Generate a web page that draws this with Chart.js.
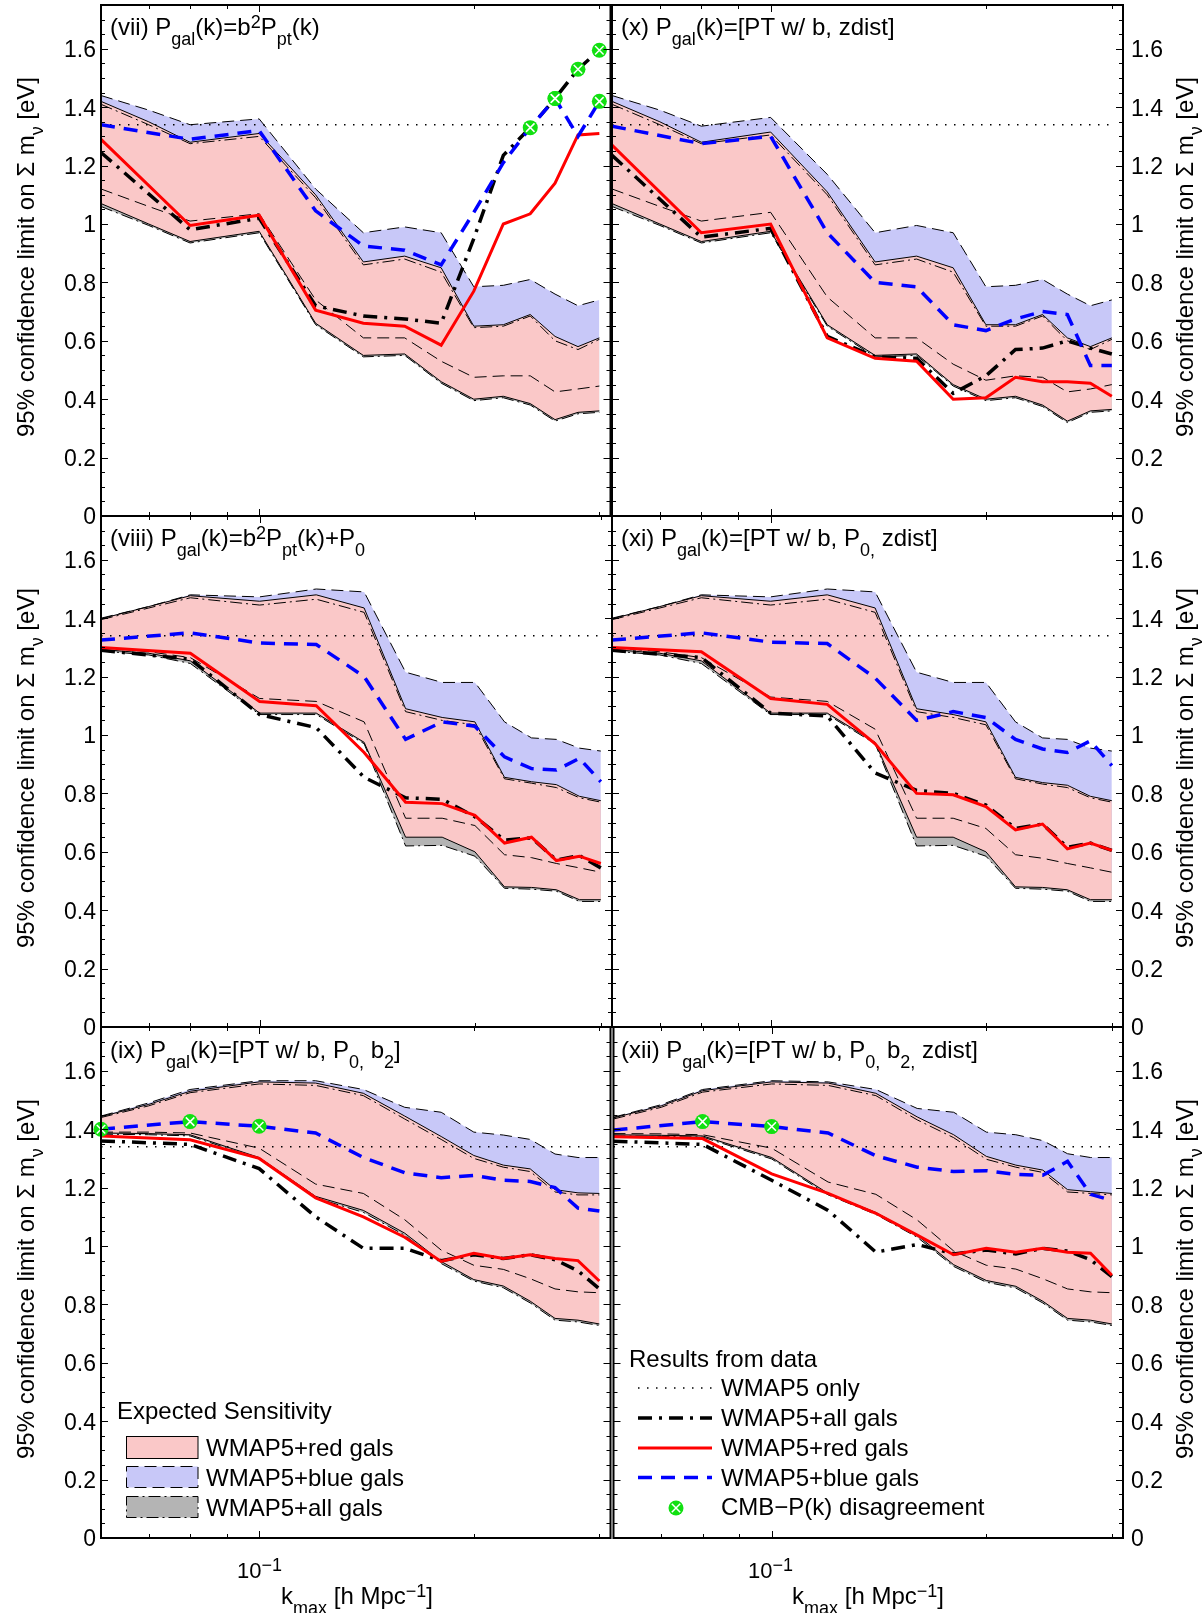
<!DOCTYPE html>
<html>
<head>
<meta charset="utf-8">
<script src="https://cdn.jsdelivr.net/npm/chart.js@4.4.1/dist/chart.umd.min.js"></script>
<style>
html,body{margin:0;padding:0;background:#fff;}
#wrap{position:relative;width:1204px;height:1613px;overflow:hidden;font-family:"Liberation Sans",Arial,Helvetica,sans-serif;color:#000;background:#fff;}
canvas{position:absolute;}
.t{position:absolute;font-size:24px;line-height:24px;white-space:nowrap;}
.t sub{font-size:18px;vertical-align:-10px;line-height:0;}
.t sup{font-size:18px;vertical-align:7px;line-height:0;}
.c{transform:translateX(-50%);}
.yt{position:absolute;font-size:24px;line-height:24px;white-space:nowrap;transform:translate(-50%,-50%) rotate(-90deg);}
.yt sub{font-size:18px;vertical-align:-9px;line-height:0;}
#sym{position:absolute;left:0;top:0;}
</style>
</head>
<body>
<div id="wrap">
<canvas id="p7"></canvas><canvas id="p10"></canvas>
<canvas id="p8"></canvas><canvas id="p11"></canvas>
<canvas id="p9"></canvas><canvas id="p12"></canvas>

<div class="t" style="left:110px;top:15px">(vii) P<sub>gal</sub>(k)=b<sup>2</sup>P<sub>pt</sub>(k)</div>
<div class="t" style="left:621px;top:15px">(x) P<sub>gal</sub>(k)=[PT w/ b, zdist]</div>
<div class="t" style="left:110px;top:526px">(viii) P<sub>gal</sub>(k)=b<sup>2</sup>P<sub>pt</sub>(k)+P<sub>0</sub></div>
<div class="t" style="left:621px;top:526px">(xi) P<sub>gal</sub>(k)=[PT w/ b, P<sub>0,</sub> zdist]</div>
<div class="t" style="left:110px;top:1038px">(ix) P<sub>gal</sub>(k)=[PT w/ b, P<sub>0,</sub> b<sub>2</sub>]</div>
<div class="t" style="left:621px;top:1038px">(xii) P<sub>gal</sub>(k)=[PT w/ b, P<sub>0,</sub> b<sub>2,</sub> zdist]</div>

<div class="yt" style="left:26px;top:257px">95% confidence limit on Σ m<sub>ν</sub> [eV]</div>
<div class="yt" style="left:26px;top:768px">95% confidence limit on Σ m<sub>ν</sub> [eV]</div>
<div class="yt" style="left:26px;top:1279px">95% confidence limit on Σ m<sub>ν</sub> [eV]</div>
<div class="yt" style="left:1185px;top:257px">95% confidence limit on Σ m<sub>ν</sub> [eV]</div>
<div class="yt" style="left:1185px;top:768px">95% confidence limit on Σ m<sub>ν</sub> [eV]</div>
<div class="yt" style="left:1185px;top:1279px">95% confidence limit on Σ m<sub>ν</sub> [eV]</div>

<div class="t c" style="left:259.6px;top:1559px;font-size:22px">10<sup>−1</sup></div>
<div class="t c" style="left:770.6px;top:1559px;font-size:22px">10<sup>−1</sup></div>
<div class="t c" style="left:357px;top:1584px">k<sub>max</sub> [h Mpc<sup>−1</sup>]</div>
<div class="t c" style="left:868px;top:1584px">k<sub>max</sub> [h Mpc<sup>−1</sup>]</div>

<div class="t" style="left:117px;top:1399px">Expected Sensitivity</div>
<div class="t" style="left:206px;top:1436px">WMAP5+red gals</div>
<div class="t" style="left:206px;top:1466px">WMAP5+blue gals</div>
<div class="t" style="left:206px;top:1496px">WMAP5+all gals</div>

<div class="t" style="left:629px;top:1347px">Results from data</div>
<div class="t" style="left:721px;top:1376px">WMAP5 only</div>
<div class="t" style="left:721px;top:1406px">WMAP5+all gals</div>
<div class="t" style="left:721px;top:1436px">WMAP5+red gals</div>
<div class="t" style="left:721px;top:1466px">WMAP5+blue gals</div>
<div class="t" style="left:721px;top:1495px">CMB−P(k) disagreement</div>

<svg id="sym" width="1204" height="1613" xmlns="http://www.w3.org/2000/svg">
  <rect x="126.5" y="1436.5" width="71.5" height="22" fill="#fac8c8" stroke="#000" stroke-width="1"/>
  <rect x="126.5" y="1466.5" width="71.5" height="21" fill="#c8c8f8" stroke="#000" stroke-width="1" stroke-dasharray="12 6"/>
  <rect x="126.5" y="1496.5" width="71.5" height="21" fill="#b4b4b4" stroke="#000" stroke-width="1" stroke-dasharray="12 4 2 4"/>
  <line x1="638" y1="1388" x2="712" y2="1388" stroke="#000" stroke-width="1.4" stroke-dasharray="1.5 7.5"/>
  <line x1="638" y1="1418" x2="712" y2="1418" stroke="#000" stroke-width="3.5" stroke-dasharray="14 7 3 7"/>
  <line x1="638" y1="1448" x2="712" y2="1448" stroke="#ff0000" stroke-width="3"/>
  <line x1="638" y1="1477.5" x2="712" y2="1477.5" stroke="#0000ff" stroke-width="3.5" stroke-dasharray="14 9"/>
  <circle cx="676" cy="1508" r="7.5" fill="#11e011"/>
  <line x1="671.8" y1="1503.8" x2="680.2" y2="1512.2" stroke="#fff" stroke-width="1.5"/>
  <line x1="671.8" y1="1512.2" x2="680.2" y2="1503.8" stroke="#fff" stroke-width="1.5"/>
</svg>
</div>

<script>
// ---------- axes ----------
const X_MIN = 0.06, X_MAX = 0.311;
const Y_MIN = 0, Y_MAX = 1.75;
const Y_TICKS = [0, 0.2, 0.4, 0.6, 0.8, 1.0, 1.2, 1.4, 1.6];
const Y_TICK_LABELS = ['0', '0.2', '0.4', '0.6', '0.8', '1', '1.2', '1.4', '1.6'];
const Y_MINOR = [0.05,0.1,0.15,0.25,0.3,0.35,0.45,0.5,0.55,0.65,0.7,0.75,0.85,0.9,0.95,1.05,1.1,1.15,1.25,1.3,1.35,1.45,1.5,1.55,1.65,1.7];
const X_MAJOR = [0.1];
const X_MINOR = [0.07, 0.08, 0.09, 0.2, 0.3];

// ---------- k grids ----------
const K_BAND = [0.06,0.07,0.08,0.10,0.12,0.14,0.16,0.18,0.20,0.22,0.24,0.26,0.28,0.30];
const K_DATA = [0.06,0.08,0.10,0.12,0.14,0.16,0.18,0.20,0.22,0.24,0.26,0.28,0.30];
const K_WMAP = [0.06, 0.30];
const WMAP5_ONLY = [1.34, 1.34];

// ---------- (vii) ----------
const P7_BLUE_UP = [1.44,1.39,1.34,1.36,1.12,0.97,0.99,0.97,0.785,0.79,0.81,0.76,0.72,0.74];
const P7_RED_UP  = [1.42,1.35,1.28,1.31,1.10,0.87,0.89,0.85,0.65,0.655,0.69,0.615,0.58,0.61];
const P7_ALL_UP  = [1.41,1.34,1.275,1.30,1.09,0.86,0.88,0.835,0.645,0.65,0.685,0.60,0.57,0.605];
const P7_BLUE_LO = [1.12,1.06,1.01,1.035,0.74,0.61,0.61,0.53,0.475,0.48,0.48,0.425,0.435,0.445];
const P7_RED_LO  = [1.07,1.00,0.94,0.975,0.66,0.55,0.555,0.46,0.40,0.41,0.385,0.33,0.355,0.36];
const P7_ALL_LO  = [1.06,0.995,0.935,0.97,0.655,0.545,0.55,0.455,0.395,0.405,0.38,0.325,0.35,0.355];
const P7_RED  = [1.29,0.995,1.03,0.705,0.66,0.65,0.585,0.77,1.00,1.035,1.14,1.305,1.31];
const P7_ALL  = [1.245,0.98,1.02,0.72,0.685,0.675,0.66,0.95,1.235,1.33,1.43,1.53,1.595];
const P7_BLUE = [1.34,1.29,1.32,1.045,0.925,0.91,0.86,1.04,1.21,1.33,1.43,1.30,1.42];
const P7_MARK_K = [0.24,0.26,0.28,0.30,0.26,0.30];
const P7_MARK_V = [1.33,1.43,1.53,1.595,1.43,1.42];

// ---------- (x) ----------
const P10_BLUE_UP = [1.44,1.39,1.335,1.365,1.17,0.97,0.995,0.97,0.785,0.79,0.81,0.76,0.72,0.74];
const P10_RED_UP  = [1.42,1.35,1.28,1.315,1.11,0.87,0.89,0.85,0.655,0.655,0.69,0.61,0.58,0.61];
const P10_ALL_UP  = [1.41,1.34,1.275,1.305,1.10,0.86,0.88,0.835,0.65,0.65,0.685,0.60,0.57,0.605];
const P10_BLUE_LO = [1.12,1.06,1.01,1.04,0.75,0.61,0.61,0.52,0.465,0.48,0.475,0.425,0.435,0.45];
const P10_RED_LO  = [1.07,1.00,0.94,0.975,0.655,0.55,0.555,0.45,0.40,0.41,0.38,0.325,0.36,0.365];
const P10_ALL_LO  = [1.06,0.995,0.935,0.97,0.65,0.545,0.55,0.445,0.395,0.405,0.375,0.32,0.355,0.36];
const P10_RED  = [1.27,0.97,1.00,0.61,0.54,0.53,0.40,0.405,0.475,0.46,0.46,0.455,0.41];
const P10_ALL  = [1.235,0.955,0.985,0.615,0.545,0.54,0.42,0.48,0.57,0.575,0.60,0.575,0.555];
const P10_BLUE = [1.335,1.275,1.30,0.97,0.80,0.785,0.655,0.635,0.675,0.70,0.69,0.515,0.515];

// ---------- (viii) ----------
const P8_BLUE_UP = [1.40,1.44,1.48,1.473,1.50,1.49,1.215,1.18,1.18,1.045,0.99,0.985,0.955,0.945];
const P8_RED_UP  = [1.398,1.44,1.477,1.458,1.48,1.435,1.09,1.06,1.045,0.855,0.84,0.83,0.79,0.775];
const P8_ALL_UP  = [1.395,1.435,1.47,1.445,1.465,1.42,1.08,1.05,1.035,0.85,0.835,0.82,0.785,0.77];
const P8_BLUE_LO = [1.30,1.285,1.265,1.125,1.115,1.045,0.715,0.715,0.69,0.59,0.58,0.56,0.545,0.53];
const P8_RED_LO  = [1.293,1.28,1.254,1.075,1.075,0.975,0.65,0.65,0.60,0.48,0.478,0.47,0.436,0.436];
const P8_ALL_LO  = [1.288,1.274,1.245,1.07,1.07,0.97,0.62,0.622,0.585,0.475,0.472,0.465,0.43,0.43];
const P8_RED  = [1.30,1.28,1.115,1.10,0.94,0.77,0.765,0.725,0.63,0.65,0.57,0.585,0.56];
const P8_ALL  = [1.29,1.26,1.07,1.025,0.855,0.785,0.78,0.72,0.64,0.648,0.572,0.587,0.545];
const P8_BLUE = [1.325,1.35,1.315,1.31,1.20,0.985,1.045,1.03,0.925,0.885,0.88,0.92,0.84];

// ---------- (xi) ----------
const P11_BLUE_UP = [1.40,1.44,1.48,1.473,1.50,1.49,1.215,1.18,1.18,1.045,0.99,0.985,0.955,0.945];
const P11_RED_UP  = [1.398,1.44,1.477,1.458,1.48,1.435,1.09,1.07,1.045,0.855,0.837,0.828,0.79,0.775];
const P11_ALL_UP  = [1.395,1.435,1.47,1.445,1.465,1.42,1.08,1.06,1.035,0.85,0.832,0.82,0.785,0.77];
const P11_BLUE_LO = [1.30,1.285,1.265,1.13,1.115,1.02,0.715,0.715,0.68,0.59,0.578,0.56,0.545,0.53];
const P11_RED_LO  = [1.293,1.28,1.254,1.075,1.075,0.975,0.65,0.65,0.60,0.48,0.478,0.47,0.436,0.436];
const P11_ALL_LO  = [1.288,1.274,1.245,1.07,1.07,0.97,0.62,0.622,0.585,0.475,0.472,0.465,0.43,0.43];
const P11_RED  = [1.30,1.285,1.125,1.105,0.97,0.80,0.795,0.755,0.675,0.695,0.61,0.63,0.605];
const P11_ALL  = [1.29,1.265,1.075,1.065,0.87,0.81,0.80,0.76,0.68,0.695,0.615,0.63,0.605];
const P11_BLUE = [1.325,1.35,1.318,1.313,1.195,1.05,1.08,1.06,0.985,0.952,0.94,0.98,0.895];

// ---------- (ix) ----------
const P9_BLUE_UP = [1.445,1.49,1.536,1.566,1.566,1.536,1.475,1.458,1.39,1.38,1.365,1.315,1.303,1.303];
const P9_RED_UP  = [1.443,1.485,1.53,1.562,1.558,1.523,1.445,1.375,1.31,1.277,1.264,1.193,1.182,1.18];
const P9_ALL_UP  = [1.44,1.48,1.525,1.555,1.55,1.515,1.435,1.365,1.30,1.27,1.255,1.185,1.175,1.175];
const P9_BLUE_LO = [1.39,1.39,1.387,1.335,1.212,1.18,1.09,0.986,0.934,0.92,0.888,0.853,0.843,0.84];
const P9_RED_LO  = [1.387,1.385,1.381,1.303,1.17,1.122,1.044,0.947,0.885,0.863,0.811,0.752,0.746,0.733];
const P9_ALL_LO  = [1.383,1.381,1.377,1.298,1.165,1.115,1.037,0.94,0.88,0.857,0.805,0.746,0.74,0.728];
const P9_RED  = [1.377,1.364,1.30,1.165,1.10,1.03,0.947,0.975,0.957,0.97,0.957,0.95,0.88];
const P9_ALL  = [1.36,1.348,1.265,1.10,0.992,0.992,0.95,0.97,0.957,0.97,0.953,0.915,0.853];
const P9_BLUE = [1.40,1.426,1.41,1.387,1.303,1.251,1.234,1.242,1.225,1.221,1.20,1.13,1.12];
const P9_MARK_K = [0.06,0.08,0.10];
const P9_MARK_V = [1.40,1.426,1.41];

// ---------- (xii) ----------
const P12_BLUE_UP = [1.441,1.484,1.536,1.566,1.562,1.536,1.471,1.458,1.39,1.381,1.361,1.316,1.303,1.303];
const P12_RED_UP  = [1.439,1.48,1.532,1.562,1.558,1.523,1.442,1.381,1.307,1.277,1.26,1.193,1.186,1.18];
const P12_ALL_UP  = [1.435,1.475,1.527,1.555,1.55,1.515,1.432,1.371,1.297,1.27,1.252,1.185,1.18,1.175];
const P12_BLUE_LO = [1.385,1.384,1.381,1.335,1.219,1.177,1.089,0.983,0.934,0.921,0.888,0.853,0.843,0.84];
const P12_RED_LO  = [1.381,1.379,1.377,1.303,1.18,1.115,1.037,0.936,0.882,0.862,0.811,0.752,0.746,0.733];
const P12_ALL_LO  = [1.377,1.375,1.373,1.298,1.175,1.108,1.03,0.93,0.876,0.856,0.805,0.746,0.74,0.728];
const P12_RED  = [1.374,1.368,1.247,1.18,1.112,1.037,0.97,0.992,0.979,0.992,0.979,0.975,0.90];
const P12_ALL  = [1.359,1.348,1.225,1.122,0.979,1.005,0.973,0.986,0.973,0.992,0.983,0.953,0.895];
const P12_BLUE = [1.397,1.426,1.409,1.387,1.309,1.27,1.255,1.258,1.245,1.242,1.29,1.177,1.156];
const P12_MARK_K = [0.08,0.10];
const P12_MARK_V = [1.426,1.409];

// ---------- styling ----------
const FONT = '"Liberation Sans", Arial, Helvetica, sans-serif';
const PINK = '#fac8c8', LAV = '#c8c8f8', GRAY = '#b4b4b4', GREEN = '#11e011';
const ROW_TOP = [5, 516, 1027];
const PLOT_H = 511;
const PAD = 30;

const PANELS = [
  {id:'p7',  col:0, row:0, bu:P7_BLUE_UP, ru:P7_RED_UP, au:P7_ALL_UP, bl:P7_BLUE_LO, rl:P7_RED_LO, al:P7_ALL_LO, red:P7_RED, all:P7_ALL, blue:P7_BLUE, mk:P7_MARK_K, mv:P7_MARK_V},
  {id:'p10', col:1, row:0, bu:P10_BLUE_UP, ru:P10_RED_UP, au:P10_ALL_UP, bl:P10_BLUE_LO, rl:P10_RED_LO, al:P10_ALL_LO, red:P10_RED, all:P10_ALL, blue:P10_BLUE},
  {id:'p8',  col:0, row:1, bu:P8_BLUE_UP, ru:P8_RED_UP, au:P8_ALL_UP, bl:P8_BLUE_LO, rl:P8_RED_LO, al:P8_ALL_LO, red:P8_RED, all:P8_ALL, blue:P8_BLUE},
  {id:'p11', col:1, row:1, bu:P11_BLUE_UP, ru:P11_RED_UP, au:P11_ALL_UP, bl:P11_BLUE_LO, rl:P11_RED_LO, al:P11_ALL_LO, red:P11_RED, all:P11_ALL, blue:P11_BLUE},
  {id:'p9',  col:0, row:2, bu:P9_BLUE_UP, ru:P9_RED_UP, au:P9_ALL_UP, bl:P9_BLUE_LO, rl:P9_RED_LO, al:P9_ALL_LO, red:P9_RED, all:P9_ALL, blue:P9_BLUE, mk:P9_MARK_K, mv:P9_MARK_V},
  {id:'p12', col:1, row:2, bu:P12_BLUE_UP, ru:P12_RED_UP, au:P12_ALL_UP, bl:P12_BLUE_LO, rl:P12_RED_LO, al:P12_ALL_LO, red:P12_RED, all:P12_ALL, blue:P12_BLUE, mk:P12_MARK_K, mv:P12_MARK_V}
];

function pts(ks, vs) { return ks.map((k, i) => ({x: k, y: vs[i]})); }

const boxTicks = {
  id: 'boxTicks',
  afterDatasetsDraw(chart) {
    const {ctx, chartArea: a, scales: {x, y}} = chart;
    ctx.save();
    ctx.strokeStyle = '#000';
    ctx.lineWidth = 1;
    ctx.beginPath();
    const hT = (v, len) => { const py = Math.round(y.getPixelForValue(v)) + 0.5; ctx.moveTo(a.left, py); ctx.lineTo(a.left + len, py); ctx.moveTo(a.right, py); ctx.lineTo(a.right - len, py); };
    const vT = (v, len) => { const px = Math.round(x.getPixelForValue(v)) + 0.5; ctx.moveTo(px, a.bottom); ctx.lineTo(px, a.bottom - len); ctx.moveTo(px, a.top); ctx.lineTo(px, a.top + len); };
    Y_TICKS.forEach(v => hT(v, 7));
    Y_MINOR.forEach(v => hT(v, 4));
    X_MAJOR.forEach(v => vT(v, 7));
    X_MINOR.forEach(v => vT(v, 4));
    ctx.stroke();
    ctx.lineWidth = 2;
    ctx.strokeRect(a.left, a.top, a.right - a.left, a.bottom - a.top);
    ctx.restore();
  }
};

function makePanel(p) {
  const cv = document.getElementById(p.id);
  const left = p.col === 0 ? 0 : 606;
  const width = p.col === 0 ? 618 : 598;
  const top = ROW_TOP[p.row] - PAD;
  const height = PLOT_H + 2 * PAD;
  cv.width = width; cv.height = height;
  cv.style.left = left + 'px'; cv.style.top = top + 'px';
  cv.style.width = width + 'px'; cv.style.height = height + 'px';

  const hid = (data, order) => ({data, borderWidth: 0, borderColor: 'transparent', pointRadius: 0, fill: false, order});
  const edge = (data, dash) => ({data, borderColor: '#000', borderWidth: 1, borderDash: dash, pointRadius: 0, fill: false, order: 50});
  const ds = [];
  ds.push(hid(pts(K_BAND, p.al), 100));                                                  // 0
  ds.push(Object.assign(hid(pts(K_BAND, p.au), 99), {fill: {target: 0}, backgroundColor: GRAY})); // 1
  ds.push(hid(pts(K_BAND, p.bl), 98));                                                   // 2
  ds.push(Object.assign(hid(pts(K_BAND, p.bu), 97), {fill: {target: 2}, backgroundColor: LAV}));  // 3
  ds.push(hid(pts(K_BAND, p.rl), 96));                                                   // 4
  ds.push(Object.assign(hid(pts(K_BAND, p.ru), 95), {fill: {target: 4}, backgroundColor: PINK})); // 5
  ds.push(edge(pts(K_BAND, p.bu), [12, 6]));
  ds.push(edge(pts(K_BAND, p.bl), [12, 6]));
  ds.push(edge(pts(K_BAND, p.au), [12, 4, 2, 4]));
  ds.push(edge(pts(K_BAND, p.al), [12, 4, 2, 4]));
  ds.push(edge(pts(K_BAND, p.ru), []));
  ds.push(edge(pts(K_BAND, p.rl), []));
  ds.push({data: pts(K_WMAP, WMAP5_ONLY), borderColor: '#000', borderWidth: 1.4, borderDash: [1.5, 7.5], pointRadius: 0, fill: false, order: 40});
  ds.push({data: pts(K_DATA, p.all), borderColor: '#000', borderWidth: 3.5, borderDash: [14, 7, 3, 7], pointRadius: 0, fill: false, order: 30});
  ds.push({data: pts(K_DATA, p.red), borderColor: '#ff0000', borderWidth: 3, pointRadius: 0, fill: false, order: 20});
  ds.push({data: pts(K_DATA, p.blue), borderColor: '#0000ff', borderWidth: 3.5, borderDash: [14, 9], pointRadius: 0, fill: false, order: 10});
  if (p.mk) {
    ds.push({data: pts(p.mk, p.mv), showLine: false, pointStyle: 'circle', pointRadius: 7.5, pointBorderWidth: 0, pointBackgroundColor: GREEN, pointBorderColor: GREEN, clip: false, order: 2});
    ds.push({data: pts(p.mk, p.mv), showLine: false, pointStyle: 'crossRot', pointRadius: 6, pointBorderWidth: 1.5, pointBorderColor: '#ffffff', clip: false, order: 1});
  }

  new Chart(cv, {
    type: 'line',
    data: {datasets: ds},
    options: {
      responsive: false, animation: false, devicePixelRatio: 1, events: [],
      layout: {padding: p.col === 0 ? {left: 0, right: 6, top: PAD, bottom: PAD} : {left: 6, right: 0, top: PAD, bottom: PAD}},
      plugins: {legend: {display: false}, tooltip: {enabled: false}},
      elements: {line: {tension: 0}},
      scales: {
        x: {type: 'logarithmic', min: X_MIN, max: X_MAX, display: false},
        y: {
          type: 'linear', min: Y_MIN, max: Y_MAX,
          position: p.col === 0 ? 'left' : 'right',
          grid: {display: false, drawTicks: false},
          border: {display: false},
          afterBuildTicks: s => { s.ticks = Y_TICKS.map(v => ({value: v})); },
          afterFit: s => { s.width = p.col === 0 ? 101 : 81; },
          ticks: {
            autoSkip: false,
            padding: p.col === 0 ? 5 : 8,
            labelOffset: 2,
            color: '#000',
            font: {family: FONT, size: 23},
            callback: (v, i) => Y_TICK_LABELS[i]
          }
        }
      }
    },
    plugins: [boxTicks]
  });
}

PANELS.forEach(makePanel);
</script>
</body>
</html>
